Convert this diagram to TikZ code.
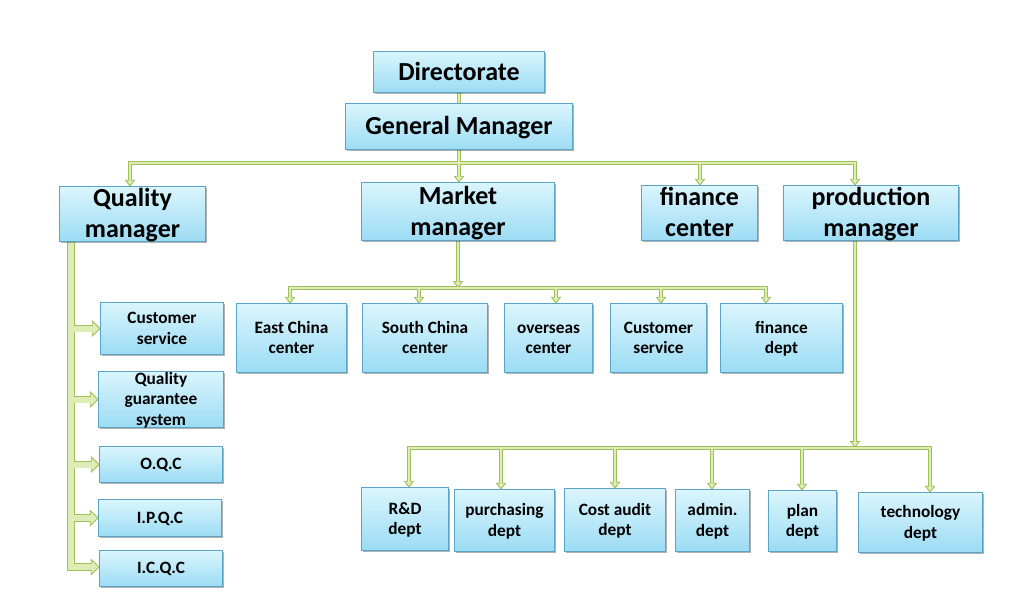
\documentclass[tikz,border=0pt]{standalone}
\usepackage{fontspec}
\setmainfont{Carlito}
\usetikzlibrary{arrows.meta,shadows}
\definecolor{gb}{RGB}{160,192,90}
\definecolor{gf}{RGB}{222,236,182}
\definecolor{bxd}{RGB}{90,165,198}
\definecolor{bxt}{RGB}{218,245,253}
\definecolor{bxb}{RGB}{156,220,244}
\newcommand\hs{\rule{0pt}{0.93em}}
\newcommand\ds{\rule[-0.3em]{0pt}{0.3em}}
\newcommand\orgnet{%
  \draw (dir.south) -- (dir.south |- gm.north);
  \draw[arr] (gm.south) -- (gm.south |- mm.north);
  \draw (b1l) -- (b1r);
  \draw[arr] (b1l) -- (b1l |- qm.north);
  \draw[arr] (b1f) -- (b1f |- fc.north);
  \draw[arr] (b1r) -- (b1r |- pm.north);
  \draw[arr] (mm.south) -- (mm.south |- b2l);
  \draw (b2l) -- (b2r);
  \draw[arr] (b2l) -- (b2l |- ec.north);
  \draw[arr] (b2s) -- (b2s |- sc.north);
  \draw[arr] (b2o) -- (b2o |- ov.north);
  \draw[arr] (b2c) -- (b2c |- csm.north);
  \draw[arr] (b2r) -- (b2r |- fd.north);
  \draw[arr] (b1r |- pm.south) -- (b1r |- b3l);
  \draw (b3l) -- (b3r);
  \draw[arr] (b3l) -- (b3l |- rd.north);
  \draw[arr] (b3p) -- (b3p |- pu.north);
  \draw[arr] (b3c) -- (b3c |- ca.north);
  \draw[arr] (b3a) -- (b3a |- ad.north);
  \draw[arr] (b3n) -- (b3n |- pl.north);
  \draw[arr] (b3r) -- (b3r |- te.north);
  \draw[big,bigarr] (lbt) -- (lbb) -- (lbb -| ic.west);
  \draw[big,bigarr] (lbt |- cs.west) -- (cs.west);
  \draw[big,bigarr] (lbt |- qg.west) -- (qg.west);
  \draw[big,bigarr] (lbt |- oq.west) -- (oq.west);
  \draw[big,bigarr] (lbt |- ip.west) -- (ip.west);
}
\begin{document}
\begin{tikzpicture}[x=1pt,y=-1pt,
  box/.style={draw=bxd,line width=0.8pt,top color=bxt,bottom color=bxb,
    drop shadow={shadow xshift=1.6pt,shadow yshift=-1.6pt,fill=black,opacity=0.3}},
  slot/.style={inner sep=0pt,rectangle},
  tbig/.style={font=\bfseries\fontsize{26}{31}\selectfont,align=center,inner sep=0pt,text=black},
  tsm/.style={font=\bfseries\fontsize{17.3}{20.5}\selectfont,align=center,inner sep=0pt,text=black},
  line cap=rect, line join=miter]
\useasboundingbox (0,0) rectangle (1021,613);
\fill[white] (0,0) rectangle (1021,613);
% box slots (named) for geometry
\path
  (459,72) node[slot,minimum width=170pt,minimum height=40pt] (dir) {}
  (459,126.5) node[slot,minimum width=226pt,minimum height=46pt] (gm) {}
  (132.5,214) node[slot,minimum width=145pt,minimum height=54pt] (qm) {}
  (458,211.5) node[slot,minimum width=192pt,minimum height=57pt] (mm) {}
  (699.5,213) node[slot,minimum width=115pt,minimum height=54pt] (fc) {}
  (871,213) node[slot,minimum width=174pt,minimum height=54pt] (pm) {}
  (291.5,338) node[slot,minimum width=109pt,minimum height=68pt] (ec) {}
  (425,338) node[slot,minimum width=124pt,minimum height=68pt] (sc) {}
  (548.5,338) node[slot,minimum width=87pt,minimum height=68pt] (ov) {}
  (658.5,338) node[slot,minimum width=95pt,minimum height=68pt] (csm) {}
  (781.5,338) node[slot,minimum width=121pt,minimum height=68pt] (fd) {}
  (162,328.5) node[slot,minimum width=122pt,minimum height=51pt] (cs) {}
  (161,399.5) node[slot,minimum width=124pt,minimum height=55pt] (qg) {}
  (161,464.5) node[slot,minimum width=122pt,minimum height=35pt] (oq) {}
  (160,518) node[slot,minimum width=122pt,minimum height=36pt] (ip) {}
  (161,568.5) node[slot,minimum width=122pt,minimum height=35pt] (ic) {}
  (405,519) node[slot,minimum width=86pt,minimum height=62pt] (rd) {}
  (504.5,520.5) node[slot,minimum width=99pt,minimum height=61pt] (pu) {}
  (615,520) node[slot,minimum width=100pt,minimum height=62pt] (ca) {}
  (712.5,520.5) node[slot,minimum width=73pt,minimum height=61pt] (ad) {}
  (802.5,521) node[slot,minimum width=67pt,minimum height=60pt] (pl) {}
  (920.5,522.5) node[slot,minimum width=123pt,minimum height=59pt] (te) {};
% bus coordinates
\coordinate (b1l) at (130,163);
\coordinate (b1f) at (700,163);
\coordinate (b1r) at (855,163);
\coordinate (b2l) at (290,288);
\coordinate (b2s) at (419,288);
\coordinate (b2o) at (556,288);
\coordinate (b2c) at (661,288);
\coordinate (b2r) at (766,288);
\coordinate (b3l) at (409,448);
\coordinate (b3p) at (501,448);
\coordinate (b3c) at (615,448);
\coordinate (b3a) at (712,448);
\coordinate (b3n) at (802,448);
\coordinate (b3r) at (930,448);
\coordinate (lbt) at (71,241);
\coordinate (lbb) at (71,567);
% connectors: outline pass
\begin{scope}[draw=gb,line width=4.4pt,
  arr/.style={-{Triangle[width=10.5pt,length=7pt,fill=gf,line width=0.9pt]}},
  big/.style={line width=7.8pt},
  bigarr/.style={-{Triangle[width=17pt,length=9pt,fill=gf,line width=0.9pt]}}]
\orgnet
\end{scope}
% connectors: fill pass
\begin{scope}[draw=gf,line width=2.6pt,
  arr/.style={shorten >=6.3pt},
  big/.style={line width=6pt},
  bigarr/.style={shorten >=8.3pt}]
\orgnet
\end{scope}
% boxes
\foreach \n in {dir,gm,qm,mm,fc,pm,ec,sc,ov,csm,fd,cs,qg,oq,ip,ic,rd,pu,ca,ad,pl,te}{
  \path[box] (\n.north west) rectangle (\n.south east);
}
% texts
\node[tbig] (tdir) at (dir) {\hs Directorate\ds};
\node[tbig] (tgm) at (gm) {\hs General Manager\ds};
\node[tbig] (tqm) at (qm) {\hs Quality\\manager\ds};
\node[tbig] (tmm) at (mm) {\hs Market\\manager\ds};
\node[tbig] (tfc) at (fc) {\hs finance\\center\ds};
\node[tbig] (tpm) at (pm) {\hs production\\manager\ds};
\node[tsm] (tec) at (ec) {\hs East China\\center\ds};
\node[tsm] (tsc) at (sc) {\hs South China\\center\ds};
\node[tsm] (tov) at (ov) {\hs overseas\\center\ds};
\node[tsm] (tcsm) at (csm) {\hs Customer\\service\ds};
\node[tsm] (tfd) at (fd) {\hs finance\\dept\ds};
\node[tsm] (tcs) at (cs) {\hs Customer\\service\ds};
\node[tsm] (tqg) at (qg) {\hs Quality\\guarantee\\system\ds};
\node[tsm] (toq) at (oq) {\hs O.Q.C\ds};
\node[tsm] (tip) at (ip) {\hs I.P.Q.C\ds};
\node[tsm] (tic) at (ic) {\hs I.C.Q.C\ds};
\node[tsm] (trd) at (rd) {\hs R\&D\\dept\ds};
\node[tsm] (tpu) at (pu) {\hs purchasing\\dept\ds};
\node[tsm] (tca) at (ca) {\hs Cost audit\\dept\ds};
\node[tsm] (tad) at (ad) {\hs admin.\\dept\ds};
\node[tsm] (tpl) at (pl) {\hs plan\\dept\ds};
\node[tsm] (tte) at (te) {\hs technology\\dept\ds};
\end{tikzpicture}
\end{document}
